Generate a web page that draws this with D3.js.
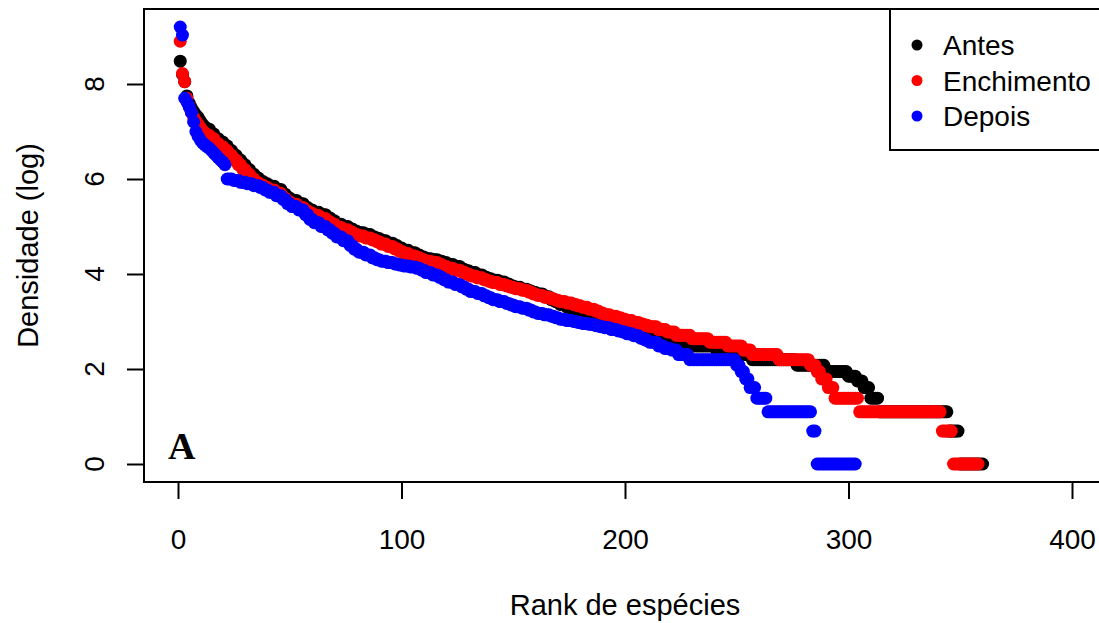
<!DOCTYPE html>
<html>
<head>
<meta charset="utf-8">
<script src="https://cdn.jsdelivr.net/npm/d3@7"></script>
<style>
  body { margin: 0; background: #fff; }
  text { font-family: "Liberation Sans", Arial, sans-serif; fill: #000; }
</style>
</head>
<body>
<script>
// values: [density (log), number of consecutive ranks]
var antesRuns = [
  [8.48,1],[8.2,1],[8.05,1],[7.75,1],[7.6,1],[7.5,1],[7.42,1],[7.35,1],[7.3,1],[7.22,1],[7.15,1],[7.1,1],
  [7.05,2],[6.95,2],[6.85,2],[6.78,2],
  [6.7,2],[6.6,2],[6.5,2],[6.4,2],[6.3,2],
  [6.2,2],[6.1,2],[6.02,2],[5.95,2],[5.9,2],
  [5.85,3],[5.78,3],[5.68,2],[5.6,2],
  [5.55,3],[5.48,3],[5.4,2],[5.35,2],
  [5.3,3],[5.25,3],[5.18,2],[5.12,2],
  [5.05,3],[5.0,3],[4.95,2],[4.9,2],
  [4.87,3],[4.83,3],[4.78,2],[4.75,2],
  [4.7,3],[4.65,3],[4.6,2],[4.55,2],
  [4.5,3],[4.45,3],[4.4,2],[4.36,2],
  [4.32,3],[4.3,3],[4.27,2],[4.24,2],
  [4.2,3],[4.16,3],[4.1,2],[4.07,2],
  [4.03,3],[3.98,3],[3.93,2],[3.9,2],
  [3.87,3],[3.83,3],[3.79,2],[3.75,2],
  [3.72,3],[3.68,3],[3.64,2],[3.61,2],
  [3.58,3],[3.52,3],[3.46,2],[3.42,2],
  [3.36,3],[3.3,3],[3.25,2],[3.2,2],
  [3.15,3],[3.1,3],[3.04,2],[3.0,2],
  [2.944,3],[2.89,4],[2.833,5],[2.773,5],[2.708,7],[2.639,8],
  [2.565,8],[2.485,10],[2.398,10],[2.303,6],[2.197,20],[2.079,13],
  [1.946,10],[1.85,4],[1.75,3],[1.609,3],[1.386,4],[1.099,31],[0.693,5],[0,11]
];
var enchimentoRuns = [
  [8.9,1],[8.22,1],[8.05,1],[7.7,1],[7.52,1],[7.4,1],[7.3,1],[7.22,1],[7.15,1],[7.08,1],[7.02,1],[6.97,1],
  [6.92,2],[6.85,2],[6.75,2],[6.68,2],
  [6.6,2],[6.5,2],[6.4,2],[6.3,2],[6.2,2],
  [6.1,2],[6.0,2],[5.92,2],[5.87,2],[5.82,2],
  [5.77,3],[5.7,3],[5.6,2],[5.52,2],
  [5.47,3],[5.4,3],[5.33,2],[5.28,2],
  [5.23,3],[5.17,3],[5.1,2],[5.05,2],
  [4.98,3],[4.93,3],[4.88,2],[4.83,2],
  [4.8,3],[4.76,3],[4.72,2],[4.68,2],
  [4.63,3],[4.58,3],[4.53,2],[4.48,2],
  [4.43,3],[4.38,3],[4.34,2],[4.3,2],
  [4.27,3],[4.24,3],[4.2,2],[4.16,2],
  [4.12,3],[4.08,3],[4.04,2],[4.0,2],
  [3.96,3],[3.92,3],[3.88,2],[3.85,2],
  [3.82,3],[3.78,3],[3.75,2],[3.72,2],
  [3.69,3],[3.66,3],[3.62,2],[3.58,2],
  [3.55,3],[3.51,3],[3.48,2],[3.45,2],
  [3.42,3],[3.39,3],[3.36,2],[3.33,2],
  [3.3,3],[3.26,3],[3.22,2],[3.18,2],
  [3.14,3],[3.11,3],[3.08,2],[3.05,2],
  [3.02,3],[2.98,3],[2.95,2],[2.92,2],
  [2.89,4],[2.83,4],[2.78,4],
  [2.708,7],[2.639,8],[2.565,8],[2.485,7],[2.398,4],[2.303,12],[2.197,14],
  [2.079,3],[1.946,2],[1.792,3],[1.609,3],[1.386,11],[1.099,37],[0.693,5],[0,12]
];
var depoisRuns = [
  [9.2,1],[9.03,1],[7.7,1],[7.62,1],[7.52,1],[7.4,1],[7.2,1],[7.0,1],[6.9,1],[6.82,1],
  [6.76,1],[6.72,1],[6.68,1],[6.65,1],[6.6,1],[6.55,1],[6.5,1],[6.45,1],[6.4,1],[6.36,1],[6.3,1],
  [6.0,3],[5.97,3],[5.93,3],
  [5.9,3],[5.86,3],[5.82,2],[5.77,2],
  [5.72,3],[5.65,3],[5.57,2],[5.48,2],
  [5.42,3],[5.35,3],[5.25,2],[5.15,2],
  [5.08,3],[5.0,3],[4.93,2],[4.86,2],
  [4.78,3],[4.7,3],[4.6,2],[4.52,2],
  [4.46,3],[4.4,3],[4.34,2],[4.3,2],
  [4.27,3],[4.24,3],[4.21,2],[4.19,2],
  [4.17,3],[4.15,3],[4.12,2],[4.08,2],
  [4.03,3],[3.98,3],[3.93,2],[3.88,2],
  [3.83,3],[3.78,3],[3.73,2],[3.68,2],
  [3.63,3],[3.59,3],[3.54,2],[3.5,2],
  [3.46,3],[3.42,3],[3.38,2],[3.35,2],
  [3.31,3],[3.28,3],[3.24,2],[3.2,2],
  [3.17,3],[3.14,3],[3.11,2],[3.08,2],
  [3.05,3],[3.02,3],[3.0,2],[2.98,2],
  [2.96,3],[2.94,3],[2.91,2],[2.89,2],
  [2.87,3],[2.83,3],[2.8,2],[2.78,2],
  [2.74,3],[2.7,3],[2.65,2],[2.61,2],
  [2.565,4],[2.485,3],[2.43,3],[2.398,3],[2.303,5],[2.197,21],
  [2.079,2],[1.946,2],[1.792,2],[1.609,3],[1.386,5],[1.099,20],[0.693,2],[0,18]
];

var seriesNames = ["Antes", "Enchimento", "Depois"];
var seriesColors = ["#000000", "#ff0000", "#0000ff"];
var xTicks = [0, 100, 200, 300, 400];
var yTicks = [0, 2, 4, 6, 8];
var xTitle = "Rank de espécies";
var yTitle = "Densidade (log)";
var panelLabel = "A";

var w = 1099;
var h = 623;
var svg = d3.select("body").append("svg")
  .attr("width", w).attr("height", h);

var x = d3.scaleLinear().domain([0, 400]).range([178, 1072]);
var y = d3.scaleLinear().domain([0, 8]).range([464, 84]);

// plot box (R style, runs past the right edge of the picture)
var boxL = 144, boxR = 1107, boxT = 9, boxB = 482;

function expand(runs) {
  var out = [];
  var rank = 1;
  runs.forEach(function(r) {
    for (var i = 0; i < r[1]; i++) {
      out.push({ rank: rank, value: r[0] });
      rank++;
    }
  });
  return out;
}

var allRuns = [antesRuns, enchimentoRuns, depoisRuns];

allRuns.forEach(function(runs, k) {
  svg.append("g").selectAll("circle")
    .data(expand(runs))
    .enter().append("circle")
    .attr("cx", function(d) { return x(d.rank); })
    .attr("cy", function(d) { return y(d.value); })
    .attr("r", 6.5)
    .attr("fill", seriesColors[k]);
});

svg.append("rect")
  .attr("x", boxL).attr("y", boxT)
  .attr("width", boxR - boxL).attr("height", boxB - boxT)
  .attr("fill", "none").attr("stroke", "#000").attr("stroke-width", 2);

// x axis
var xAxis = d3.axisBottom(x).tickValues(xTicks).tickSize(17).tickPadding(30);
var gx = svg.append("g").attr("transform", "translate(0," + boxB + ")").call(xAxis);
gx.select(".domain").remove();
gx.selectAll(".tick line").attr("stroke", "#000").attr("stroke-width", 2);
gx.selectAll(".tick text")
  .style("font-family", '"Liberation Sans", Arial, sans-serif')
  .style("font-size", "28px");

// y axis, labels rotated like R's default
var yAxis = d3.axisLeft(y).tickValues(yTicks).tickSize(17).tickFormat("");
var gy = svg.append("g").attr("transform", "translate(" + boxL + ",0)").call(yAxis);
gy.select(".domain").remove();
gy.selectAll(".tick line").attr("stroke", "#000").attr("stroke-width", 2);
svg.append("g").selectAll("text")
  .data(yTicks)
  .enter().append("text")
  .attr("transform", function(d) { return "translate(104," + y(d) + ") rotate(-90)"; })
  .attr("text-anchor", "middle")
  .style("font-size", "28px")
  .text(function(d) { return d; });

svg.append("text")
  .attr("x", x(200)).attr("y", 615)
  .attr("text-anchor", "middle")
  .style("font-size", "29px")
  .text(xTitle);

svg.append("text")
  .attr("transform", "translate(38," + ((boxT + boxB) / 2) + ") rotate(-90)")
  .attr("text-anchor", "middle")
  .style("font-size", "29px")
  .text(yTitle);

svg.append("text")
  .attr("x", 168).attr("y", 459)
  .style("font-family", '"Liberation Serif", "Times New Roman", serif')
  .style("font-weight", "bold")
  .style("font-size", "38px")
  .text(panelLabel);

// legend
var leg = svg.append("g");
leg.append("rect")
  .attr("x", 890).attr("y", boxT)
  .attr("width", boxR - 890).attr("height", 150 - boxT)
  .attr("fill", "#fff").attr("stroke", "#000").attr("stroke-width", 2);
seriesNames.forEach(function(name, i) {
  var cy = 45 + i * 35.5;
  leg.append("circle").attr("cx", 917).attr("cy", cy).attr("r", 5.5).attr("fill", seriesColors[i]);
  leg.append("text").attr("x", 943).attr("y", cy + 10)
    .style("font-size", "28px")
    .text(name);
});
</script>
</body>
</html>
